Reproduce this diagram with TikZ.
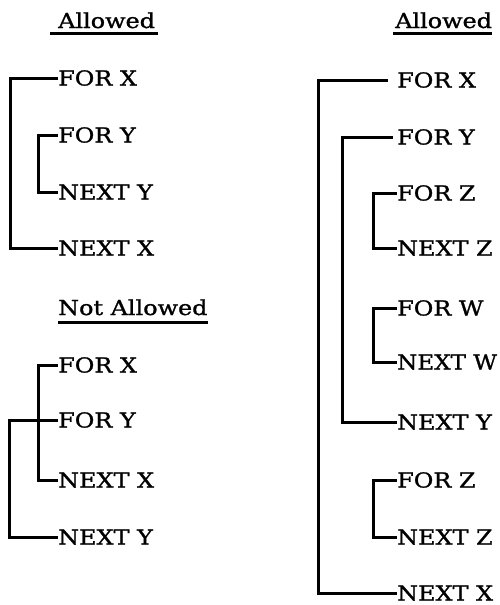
\documentclass[tikz,border=0pt]{standalone}
\usepackage{fontspec}
\newfontfamily\twfont[FakeStretch=1.16,FakeBold=1.2]{DejaVu Serif}
\begin{document}
\begin{tikzpicture}[x=1pt,y=-1pt,
  code/.style={anchor=west,inner sep=0pt,text height=15pt,text depth=0pt,font=\twfont\fontsize{20.6pt}{24pt}\selectfont},
  ttl/.style={anchor=base west,inner sep=0pt,font=\twfont\fontsize{20.6pt}{24pt}\selectfont},
  brk/.style={line width=3pt,line join=miter,line cap=butt},
  uline/.style={line width=3pt}]
\useasboundingbox (0,0) rectangle (499,605);
% ---------- left, allowed
\node[ttl] (t1) at (58,28) {Allowed};
\coordinate (u1a) at (50,33.5);
\coordinate (u1b) at (158,33.5);
\draw[uline] (u1a) -- (u1b);
\node[code] (lfx) at (58,78) {FOR X};
\node[code] (lfy) at (58,135) {FOR Y};
\node[code] (lny) at (58,192) {NEXT Y};
\node[code] (lnx) at (58,248) {NEXT X};
\draw[brk] (lfx.west) -| (10,248) -- (lnx.west);
\draw[brk] (lfy.west) -| (38,192) -- (lny.west);
% ---------- left, not allowed
\node[ttl] (t2) at (58,315) {Not Allowed};
\coordinate (u2a) at (58,322);
\coordinate (u2b) at (208,322);
\draw[uline] (u2a) -- (u2b);
\node[code] (nfx) at (58,365) {FOR X};
\node[code] (nfy) at (58,420) {FOR Y};
\node[code] (nnx) at (58,480) {NEXT X};
\node[code] (nny) at (58,537) {NEXT Y};
\draw[brk] (nfx.west) -| (38,480) -- (nnx.west);
\draw[brk] (nfy.west) -| (9,537) -- (nny.west);
% ---------- right, allowed
\node[ttl] (t3) at (395,28) {Allowed};
\coordinate (u3a) at (393,33.5);
\coordinate (u3b) at (492,33.5);
\draw[uline] (u3a) -- (u3b);
\node[code] (rfx) at (397,80) {FOR X};
\node[code] (rfy) at (397,137) {FOR Y};
\node[code] (rfz) at (397,193) {FOR Z};
\node[code] (rnz) at (397,248) {NEXT Z};
\node[code] (rfw) at (397,308) {FOR W};
\node[code] (rnw) at (397,362) {\scalebox{0.965}[1]{NEXT W}};
\node[code] (rny) at (397,422) {NEXT Y};
\node[code] (rfz2) at (397,480) {FOR Z};
\node[code] (rnz2) at (397,537) {NEXT Z};
\node[code] (rnx) at (397,593) {NEXT X};
\draw[brk] ([xshift=-9pt]rfx.west) -| (318,593) -- (rnx.west);
\draw[brk] ([xshift=-4pt]rfy.west) -| (342,422) -- (rny.west);
\draw[brk] (rfz.west) -| (373,248) -- (rnz.west);
\draw[brk] (rfw.west) -| (373,362) -- (rnw.west);
\draw[brk] (rfz2.west) -| (373,537) -- (rnz2.west);
\end{tikzpicture}
\end{document}
